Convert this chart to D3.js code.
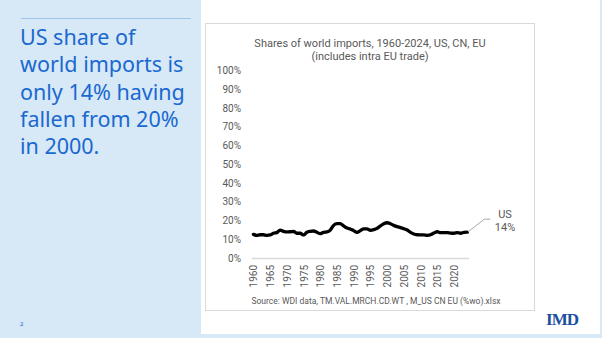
<!DOCTYPE html>
<html>
<head>
<meta charset="utf-8">
<script src="https://cdn.jsdelivr.net/npm/d3@7"></script>
<style>
  html, body { margin: 0; padding: 0; background: #ffffff; }
  svg { display: block; }
</style>
</head>
<body>
<svg id="slide" width="602" height="338"></svg>
<script>
// US share of world merchandise imports, percent (WDI, includes intra-EU trade)
const years = d3.range(1960, 2025);
const usShare = [
  12.6, 12.1, 12.4, 12.4, 12.1, 12.3, 13.2, 13.5, 14.9, 14.2,
  13.9, 14.0, 14.2, 13.2, 13.2, 12.3, 13.7, 14.2, 14.4, 13.7,
  13.0, 13.7, 13.9, 14.9, 17.4, 18.3, 18.3, 17.1, 16.0, 15.5,
  14.6, 13.7, 14.6, 15.5, 15.5, 14.8, 15.1, 15.8, 17.1, 18.3,
  18.8, 18.3, 17.4, 16.7, 16.2, 15.6, 14.9, 13.7, 12.8, 12.4,
  12.3, 12.3, 12.1, 12.4, 13.3, 14.0, 13.5, 13.5, 13.5, 13.3,
  13.2, 13.5, 13.2, 13.7, 13.8
];
const yTicks = [0, 10, 20, 30, 40, 50, 60, 70, 80, 90, 100];
const xTickYears = d3.range(1960, 2021, 5);
const headlineLines = ["US share of", "world imports is", "only 14% having", "fallen from 20%", "in 2000."];
const chartTitle = ["Shares of world imports, 1960-2024, US, CN, EU", "(includes intra EU trade)"];
const sourceNote = "Source: WDI data, TM.VAL.MRCH.CD.WT , M_US CN EU (%wo).xlsx";
const seriesName = "US";

const svg = d3.select("#slide");
const textBlue = "#1a68d0";
const grey = "#595959";

// Left panel
svg.append("rect").attr("x", 0).attr("y", 0).attr("width", 201).attr("height", 338).attr("fill", "#d7e9f6");
// slide frame at right and bottom
svg.append("rect").attr("x", 201).attr("y", 334).attr("width", 401).attr("height", 4).attr("fill", "#d7e9f6");
svg.append("rect").attr("x", 600).attr("y", 0).attr("width", 2).attr("height", 338).attr("fill", "#d7e9f6");

svg.append("line").attr("x1", 21).attr("x2", 191).attr("y1", 18.5).attr("y2", 18.5)
  .attr("stroke", "#9fc6ea").attr("stroke-width", 1);

svg.append("g").selectAll("text").data(headlineLines).join("text")
  .attr("x", 20).attr("y", (d, i) => 45 + i * 27.3)
  .attr("font-family", "'Noto Sans', sans-serif").attr("font-size", 21.5)
  .attr("fill", textBlue).text(d => d);

svg.append("text").attr("x", 20).attr("y", 326).attr("font-family", "'Noto Sans', sans-serif")
  .attr("font-size", 6).attr("fill", textBlue).text("2");

// IMD wordmark
svg.append("text").attr("x", 562).attr("y", 325).attr("text-anchor", "middle")
  .attr("font-family", "'Liberation Serif', serif").attr("font-weight", "bold")
  .attr("font-size", 17).attr("letter-spacing", -1).attr("fill", "#1b4fa3").text("IMD");

// Chart frame
svg.append("rect").attr("x", 205.5).attr("y", 23.5).attr("width", 329).attr("height", 287)
  .attr("fill", "#ffffff").attr("stroke", "#d9d9d9").attr("stroke-width", 1);

const font = "Roboto, 'Liberation Sans', sans-serif";

svg.append("g").selectAll("text").data(chartTitle).join("text")
  .attr("x", 370).attr("y", (d, i) => 47 + i * 12.5).attr("text-anchor", "middle")
  .attr("font-family", font).attr("font-size", 11).attr("fill", grey).text(d => d);

// Scales
const x = d3.scalePoint().domain(years).range([251.7, 469]).padding(0.5);
const y = d3.scaleLinear().domain([0, 100]).range([258, 70.5]);

// Y axis labels (no axis line)
const yAxis = d3.axisLeft(y).tickValues(yTicks).tickSize(0).tickPadding(0)
  .tickFormat(d => d + "%");
svg.append("g").attr("transform", "translate(241,0)").call(yAxis)
  .call(g => g.select(".domain").remove())
  .call(g => g.selectAll("text").attr("font-family", font).attr("font-size", 10).attr("fill", grey));

// X axis
const xAxis = d3.axisBottom(x).tickValues(xTickYears).tickSize(0).tickPadding(0);
svg.append("g").attr("transform", "translate(0,258)").call(xAxis)
  .call(g => g.select(".domain").attr("d", `M251.7,0.5H469`).attr("stroke", "#d9d9d9").attr("stroke-width", 1.3))
  .call(g => g.selectAll("text")
    .attr("font-family", font).attr("font-size", 10).attr("fill", grey)
    .attr("text-anchor", "end").attr("y", 0)
    .attr("transform", "translate(0,7) rotate(-90)")
    .attr("dx", 0).attr("dy", "0.35em"));

// US line
const line = d3.line().x((d, i) => x(years[i])).y(d => y(d)).curve(d3.curveMonotoneX);
svg.append("path").datum(usShare).attr("d", line)
  .attr("fill", "none").attr("stroke", "#000000").attr("stroke-width", 3.3)
  .attr("stroke-linejoin", "round").attr("stroke-linecap", "round");

// End label with leader
const lastX = x(years[years.length - 1]);
const lastV = usShare[usShare.length - 1];
const lastY = y(lastV);
svg.append("path")
  .attr("d", `M${lastX + 1},${lastY - 0.5}L${lastX + 17},${y(20.7)}H${lastX + 23}`)
  .attr("fill", "none").attr("stroke", "#a6a6a6").attr("stroke-width", 1);
svg.append("text").attr("x", 505).attr("y", 217.5).attr("text-anchor", "middle")
  .attr("font-family", font).attr("font-size", 11).attr("fill", grey).text(seriesName);
svg.append("text").attr("x", 505).attr("y", 231).attr("text-anchor", "middle")
  .attr("font-family", font).attr("font-size", 11).attr("fill", grey)
  .text(d3.format(".0f")(lastV) + "%");

svg.append("text").attr("x", 376).attr("y", 303.5).attr("text-anchor", "middle")
  .attr("font-family", font).attr("font-size", 8.5).attr("fill", grey).text(sourceNote);
</script>
</body>
</html>
